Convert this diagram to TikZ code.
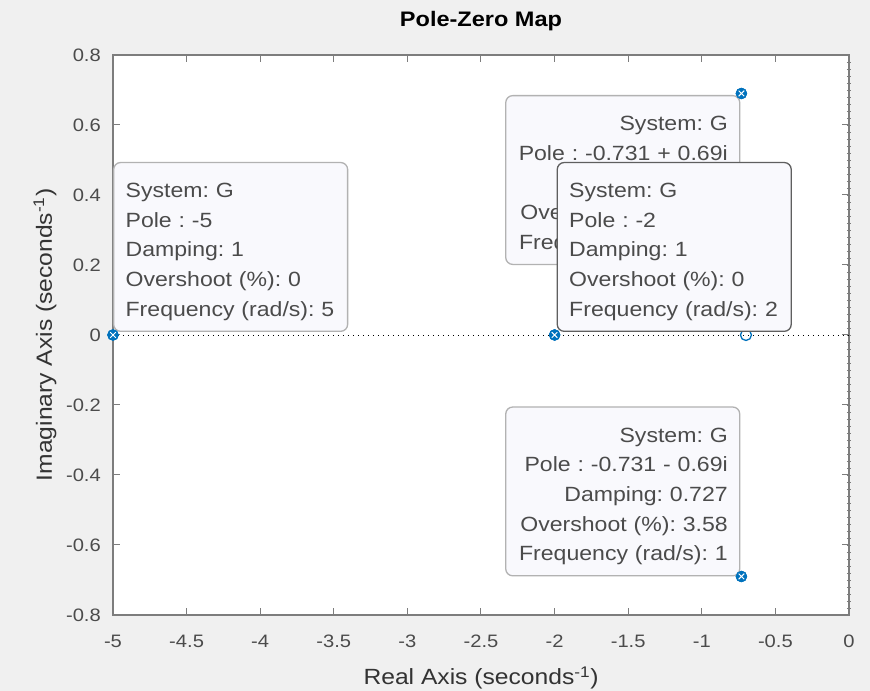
\documentclass[tikz,border=0pt]{standalone}
\usepackage{fontspec}
\setmainfont[FakeStretch=1.12]{Liberation Sans}
\usepackage{tikz}

\definecolor{figbg}{RGB}{240,240,240}
\definecolor{axgray}{RGB}{125,125,125}
\definecolor{txtgray}{RGB}{75,75,75}
\definecolor{tipfill}{RGB}{249,249,253}
\definecolor{tipedge}{RGB}{178,178,178}
\definecolor{tipsel}{RGB}{95,95,95}
\definecolor{mblue}{RGB}{0,114,189}

\newcommand{\tiptop}{\rule{0pt}{35pt}}
\newcommand{\tipbot}{\rule[-15pt]{0pt}{15pt}}

\begin{document}
\frenchspacing
\begin{tikzpicture}[x=147.2pt,y=350pt]
    \tikzstyle{tip} = [draw=tipedge, line width=1.3pt, fill=tipfill, rounded corners=7pt,
        text width=210pt, inner xsep=12pt, inner ysep=0pt, text=txtgray,
        font=\fontsize{20.6}{29.7}\selectfont]
    \tikzstyle{pole} = [circle, fill=mblue, draw=mblue, minimum size=11pt, inner sep=0pt,
        path picture={\draw[white, line width=0.9pt] (path picture bounding box.center)
            ++(-2.8pt,-2.8pt) -- ++(5.6pt,5.6pt) ++(-5.6pt,0) -- ++(5.6pt,-5.6pt);}]
    \tikzstyle{zero} = [circle, draw=mblue, line width=1.3pt, minimum size=11pt, inner sep=0pt]
    \tikzstyle{ticklab} = [inner sep=0pt, text=txtgray, font=\fontsize{18}{18}\selectfont]
    \tikzstyle{axlab} = [inner sep=0pt, text=black!80, font=\fontsize{22}{22}\selectfont]

    \fill[figbg] (-5.7677,-1.0171) rectangle (0.1427,0.9571);
    \useasboundingbox (-5.7677,-1.0171) rectangle (0.1427,0.9571);
    \fill[white] (-5,-0.8) rectangle (0,0.8);

    \foreach \x [count=\i] in {-5,-4.5,-4,-3.5,-3,-2.5,-2,-1.5,-1,-0.5,0} {
        \draw[axgray, line width=1pt] (\x,-0.8) -- ++(0,7pt) (\x,0.8) -- ++(0,-7pt);
        \node[ticklab, anchor=north, yshift=-20pt] (xl\i) at (\x,-0.8) {\x};
    }
    \foreach \y [count=\i] in {-0.8,-0.6,-0.4,-0.2,0,0.2,0.4,0.6,0.8} {
        \draw[axgray, line width=1pt] (-5,\y) -- ++(7pt,0) (0,\y) -- ++(-7pt,0);
        \node[ticklab, anchor=east, xshift=-12pt] (yl\i) at (-5,\y) {\y};
    }
    \foreach \y in {-0.78,-0.76,...,0.79}
        \draw[axgray, line width=0.6pt] (0,\y) ++(-2pt,0) -- ++(4pt,0);
    \draw[axgray, line width=1.3pt] (-5,-0.8) rectangle (0,0.8);

    \draw[black, line width=0.9pt, dash pattern=on 1.2pt off 3.8pt] (-5,0) -- (0,0);
    \node[zero] (z1) at (-0.7,0) {};

    \node[pole] (p1) at (-5,0) {};
    \node[pole] (p2) at (-2,0) {};
    \node[pole] (p3) at (-0.731,0.69) {};
    \node[pole] (p4) at (-0.731,-0.69) {};

    \node[tip, align=left, anchor=south west, yshift=3pt] (t1) at (p1.center)
        {\tiptop System: G\\Pole : -5\\Damping: 1\\Overshoot (\%): 0\\Frequency (rad/s): 5\tipbot};
    \node[tip, align=right, anchor=north east, xshift=-1pt, yshift=-1.5pt] (t3) at (p3.center)
        {\tiptop System: G\\Pole : -0.731 + 0.69i\\Damping: 0.727\\Overshoot (\%): 3.58\\Frequency (rad/s): 1\tipbot};
    \node[tip, draw=tipsel, align=left, anchor=south west, xshift=2pt, yshift=3pt] (t2) at (p2.center)
        {\tiptop System: G\\Pole : -2\\Damping: 1\\Overshoot (\%): 0\\Frequency (rad/s): 2\tipbot};
    \node[tip, align=right, anchor=south east, xshift=-1pt] (t4) at (p4.center)
        {\tiptop System: G\\Pole : -0.731 - 0.69i\\Damping: 0.727\\Overshoot (\%): 3.58\\Frequency (rad/s): 1\tipbot};

    \node[pole] at (p1) {};
    \node[pole] at (p2) {};
    \node[pole] at (p3) {};
    \node[pole] at (p4) {};

    \node[font=\fontsize{21}{21}\selectfont\bfseries, inner sep=0pt] (title) at (-2.5,0.8) [yshift=34pt] {Pole-Zero Map};
    \node[axlab] (xlab) at (-2.5,-0.8) [yshift=-63pt] {Real Axis (seconds\textsuperscript{-1})};
    \node[axlab, rotate=90] (ylab) at ([xshift=-68pt]p1.center) {Imaginary Axis (seconds\textsuperscript{-1})};
\end{tikzpicture}
\end{document}
